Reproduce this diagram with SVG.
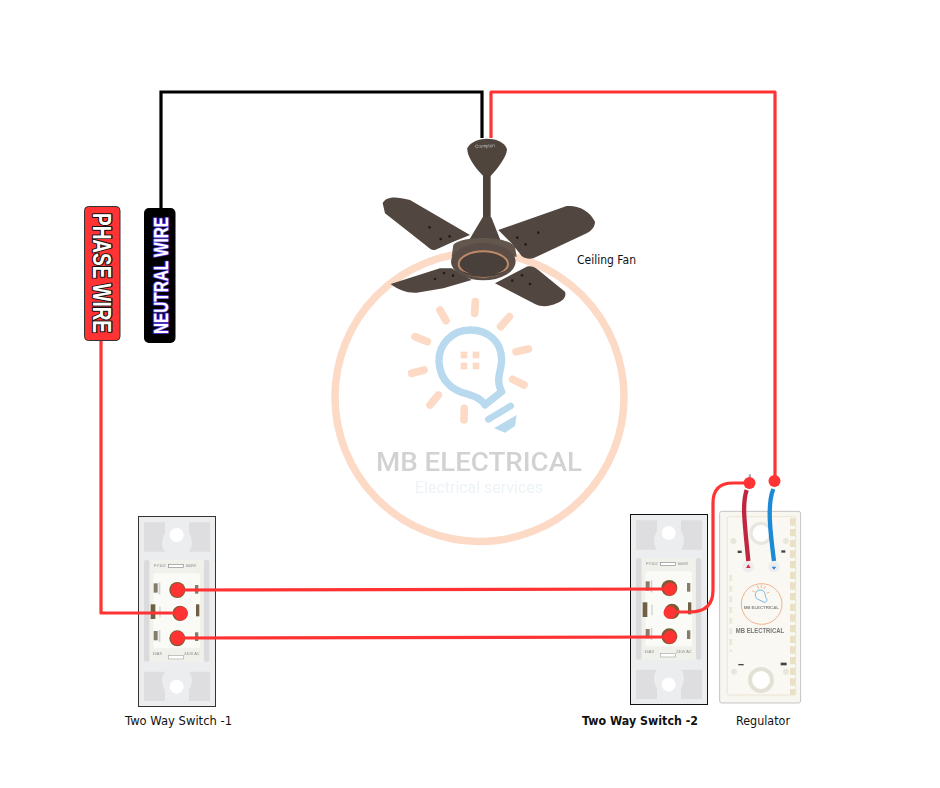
<svg xmlns="http://www.w3.org/2000/svg" width="940" height="788" viewBox="0 0 940 788">
<style>
.ray{fill:none;stroke:#fcdac6;stroke-width:23;stroke-linecap:round}
.wire{fill:none;stroke:#ff3333;stroke-width:3.200;stroke-linejoin:round}
.dot{fill:#ff3333}
.lbl{font-family:"DejaVu Sans",sans-serif;font-size:12px;fill:#111}
.blade{fill:#51463f}
.pad{fill:#dedee0}
.term{fill:#857c6c}
.micro{font-family:"Liberation Sans",sans-serif;font-size:12px;fill:#8a8a8a}
.badge{font-family:"Liberation Sans",sans-serif;font-weight:700;paint-order:stroke;stroke-linejoin:round}
</style>
<defs>
<filter id="soft" x="-5%" y="-5%" width="110%" height="110%"><feGaussianBlur stdDeviation="0.450"/></filter>
<g id="switchBody">
<rect x="55" y="35" width="232" height="570" fill="#ecedee"/>
<path class="pad" d="M72 52H135V85C125 100 122 125 135 140H72Z"/>
<path class="pad" d="M270 52H207V85C217 100 220 125 207 140H270Z"/>
<path class="pad" d="M72 588H135V555C125 540 122 515 135 500H72Z"/>
<path class="pad" d="M270 588H207V555C217 540 220 515 207 500H270Z"/>
<circle cx="170" cy="90" r="21" fill="#fff"/>
<circle cx="170" cy="545" r="21" fill="#fff"/>
<rect x="72" y="165" width="16" height="305" rx="6" fill="#dbdbdd"/>
<rect x="252" y="165" width="16" height="305" rx="6" fill="#dbdbdd"/>
<rect x="90" y="165" width="160" height="305" rx="6" fill="#f1f1ec"/>
<rect x="100" y="205" width="140" height="225" rx="8" fill="#fafaf7"/>
<rect x="146" y="178" width="44" height="10" fill="#fff" stroke="#888" stroke-width="2"/>
<rect x="146" y="452" width="44" height="10" fill="#fff" stroke="#aaa" stroke-width="2"/>
<rect x="101" y="235" width="12" height="28" class="term"/>
<rect x="116" y="232" width="5" height="36" fill="#d2d2d2"/>
<rect x="225" y="240" width="10" height="26" class="term"/>
<rect x="92" y="298" width="14" height="44" fill="#6f5f45"/>
<rect x="118" y="305" width="4" height="32" fill="#d2d2d2"/>
<rect x="228" y="298" width="10" height="36" fill="#6f5f45"/>
<rect x="101" y="378" width="12" height="28" class="term"/>
<rect x="116" y="375" width="5" height="36" fill="#d2d2d2"/>
<rect x="225" y="382" width="10" height="26" class="term"/>
<circle cx="172" cy="255" r="24" fill="#7a5c32"/>
<circle cx="180" cy="325" r="27" fill="#fff"/>
<circle cx="180" cy="325" r="23" fill="#7a5c32"/>
<circle cx="172" cy="400" r="24" fill="#7a5c32"/>
<text class="micro" x="102" y="186">FY102</text>
<text class="micro" x="197" y="186">600W</text>
<text class="micro" x="97" y="451">16AX</text>
<text class="micro" x="192" y="451">240V AC</text>
</g>
</defs>
<rect width="940" height="788" fill="#fff"/>

<g id="watermark" filter="url(#soft)">
<circle cx="479.500" cy="397" r="144.500" fill="none" stroke="#fcdac6" stroke-width="7.500"/>
<g transform="translate(320 280) scale(.3333)">
<path class="ray" d="M360 90L378 122M466 65L464 100M568 110L542 140M588 215L625 207M578 298L612 315M433 385L432 420M355 345L330 375M285 170L322 185M275 280L312 270"/>
<path d="M545 335C525 300 545 270 545 240C545 185 505 150 450 150C395 150 355 195 357 245C360 290 385 320 420 335C450 345 480 350 495 375Z" fill="none" stroke="#b9d9ee" stroke-width="22" stroke-linejoin="round"/>
<path d="M505 418L572 378" fill="none" stroke="#b9d9ee" stroke-width="20" stroke-linecap="round"/>
<path d="M522 445L590 405L585 438L555 458Z" fill="#b9d9ee"/>
<g fill="#fcdac6"><rect x="422" y="215" width="20" height="20"/><rect x="458" y="215" width="20" height="20"/><rect x="422" y="248" width="20" height="20"/><rect x="458" y="248" width="20" height="20"/></g>
</g>
<text x="376" y="471" font-family="Roboto,sans-serif" font-weight="500" font-size="26" fill="#d2d2d2" textLength="206" lengthAdjust="spacingAndGlyphs">MB ELECTRICAL</text>
<text x="415" y="493" font-family="Roboto,sans-serif" font-size="16" fill="#edf3f6" textLength="128" lengthAdjust="spacingAndGlyphs">Electrical services</text>
</g>

<g id="ceiling-fan">
<g transform="translate(360 120) scale(.3333)" filter="url(#soft)">
<path class="blade" d="M68 250C75 232 100 226 150 240L330 345L280 365L225 390C215 392 208 385 200 378L75 280Z"/>
<path class="blade" d="M415 330L620 258C660 255 690 275 705 305C705 320 695 332 680 340L520 415C505 418 495 415 485 408L455 370Z"/>
<path class="blade" d="M92 492L240 445H275L335 480L250 505L170 518C145 520 115 510 92 492Z"/>
<path class="blade" d="M405 490L500 440C515 437 525 442 535 450L615 515C620 530 610 542 590 550C570 560 545 562 525 552Z"/>
<path d="M322 85C330 65 360 56 381 56C405 56 435 65 441 88C441 110 410 150 392 168H370C350 150 320 110 322 85Z" fill="#4f443e"/>
<rect x="369" y="165" width="23" height="130" fill="#4c423b"/>
<path d="M368 292H394L422 362H326Z" fill="#51463f"/>
<path d="M280 375C300 348 440 345 465 380L470 410H275Z" fill="#62564d"/>
<ellipse cx="370" cy="425" rx="97" ry="56" fill="#5a4e46"/>
<ellipse cx="370" cy="432" rx="74" ry="38" fill="#4a403a" stroke="#c08a68" stroke-width="6"/>
<path d="M296 445C310 480 430 480 444 445C430 470 310 470 296 445Z" fill="#4a403a"/>
<text x="346" y="84" font-family="Liberation Sans,sans-serif" font-size="14" fill="#c9c9c9" transform="rotate(-3 346 84)" textLength="58" lengthAdjust="spacingAndGlyphs">Crompton</text>
<g fill="#241d19"><circle cx="209" cy="322" r="4"/><circle cx="242" cy="357" r="4"/><circle cx="269" cy="349" r="4"/><circle cx="472" cy="353" r="4"/><circle cx="497" cy="373" r="4"/><circle cx="535" cy="338" r="4"/><circle cx="225" cy="477" r="4"/><circle cx="252" cy="459" r="4"/><circle cx="279" cy="467" r="4"/><circle cx="457" cy="482" r="4"/><circle cx="486" cy="466" r="4"/><circle cx="510" cy="492" r="4"/></g>
</g>
<text class="lbl" x="577" y="264" textLength="59" lengthAdjust="spacingAndGlyphs">Ceiling Fan</text>
</g>

<g id="switch-1">
<use href="#switchBody" transform="translate(120 505) scale(.3333)" filter="url(#soft)"/>
<rect x="138.500" y="516.500" width="77" height="190" fill="none" stroke="#333"/>
<text class="lbl" x="125" y="725" textLength="107" lengthAdjust="spacingAndGlyphs">Two Way Switch -1</text>
</g>

<g id="switch-2">
<use href="#switchBody" transform="translate(612 503) scale(.3333)" filter="url(#soft)"/>
<rect x="630.500" y="514.500" width="77" height="190" fill="none" stroke="#111"/>
<text class="lbl" x="582" y="725" font-weight="700" textLength="116" lengthAdjust="spacingAndGlyphs">Two Way Switch -2</text>
</g>

<g id="regulator">
<g transform="translate(620 465) scale(.3333)" filter="url(#soft)">
<rect x="299" y="139" width="243" height="575" rx="6" fill="#f7f6f1" stroke="#c4c4c4" stroke-width="3"/>
<rect x="322" y="155" width="205" height="535" rx="4" fill="#f9f8f2" stroke="#ebe5d2" stroke-width="3"/>
<path d="M518 160V690" fill="none" stroke="#e9e0c6" stroke-width="16" stroke-dasharray="22 10"/>
<path d="M332 330V560" fill="none" stroke="#eeeadb" stroke-width="10" stroke-dasharray="18 14"/>
<circle cx="423" cy="205" r="30" fill="#fff" stroke="#e8e7e0" stroke-width="10"/>
<circle cx="423" cy="645" r="33" fill="#fff" stroke="#e3e1d6" stroke-width="12"/>
<g fill="#444"><rect x="353" y="257" width="12" height="7"/><rect x="484" y="256" width="12" height="7"/><rect x="355" y="597" width="16" height="4"/><rect x="482" y="593" width="18" height="8"/></g>
<g fill="#e9e7db"><circle cx="340" cy="228" r="9"/><circle cx="498" cy="228" r="9"/><circle cx="342" cy="620" r="9"/><circle cx="498" cy="620" r="9"/></g>
<circle cx="385" cy="305" r="17" fill="#ededed"/>
<circle cx="462" cy="305" r="17" fill="#ededed"/>
<path d="M378 309H392L385 298Z" fill="#cf2f45"/>
<path d="M455 305H469L462 314Z" fill="#2a86d8"/>
<circle cx="425" cy="417" r="61" fill="#f9f8f2" stroke="#f0b48e" stroke-width="3"/>
<path d="M420 375C405 375 402 395 412 402L435 413L442 405C432 395 440 375 420 375Z" fill="none" stroke="#7db7e3" stroke-width="3"/>
<path class="ray" style="stroke:#f0a878;stroke-width:2.500" d="M412 362L415 370M424 360V368M436 364L432 371M398 378L405 381M447 382L441 384"/>
<text x="424" y="433" text-anchor="middle" font-family="Liberation Sans,sans-serif" font-size="13" font-weight="700" fill="#888">MB ELECTRICAL</text>
<text x="420" y="504" text-anchor="middle" font-family="Liberation Sans,sans-serif" font-size="20" font-weight="700" fill="#777" textLength="145" lengthAdjust="spacingAndGlyphs">MB ELECTRICAL</text>
<path d="M380 75C365 120 375 180 385 288" fill="none" stroke="#c1283f" stroke-width="13"/>
<path d="M460 72C440 120 452 210 462 288" fill="none" stroke="#1b8ad6" stroke-width="13"/>
<rect x="386" y="28" width="7" height="22" fill="#aaa"/>
</g>
<text class="lbl" x="736" y="725" textLength="54" lengthAdjust="spacingAndGlyphs">Regulator</text>
</g>

<g id="phase-wire">
<rect x="84.500" y="206.500" width="35.500" height="134" rx="4" fill="#ff3333" stroke="#333"/>
<text class="badge" transform="translate(93 213) rotate(90)" font-size="25" fill="#fff" stroke="#111" stroke-width="2.500" textLength="120" lengthAdjust="spacingAndGlyphs">PHASE WIRE</text>
</g>

<g id="neutral-wire">
<rect x="144" y="208" width="31.500" height="135" rx="5" fill="#000"/>
<text class="badge" transform="translate(168 334) rotate(-90)" font-size="21" fill="#fff" stroke="#5a3be0" stroke-width="2" textLength="117" lengthAdjust="spacingAndGlyphs">NEUTRAL WIRE</text>
</g>

<g id="connectors">
<path d="M161 208V92H482V138" fill="none" stroke="#000" stroke-width="3.200"/>
<path class="wire" d="M491 138V92H775V481"/>
<path class="wire" d="M101 341V613H181"/>
<path class="wire" d="M177 590L670 589"/>
<path class="wire" d="M177 638L670 637"/>
<path class="wire" d="M670 612H690Q713 612 713 590V503Q713 483 733 483H749"/>
<circle class="dot" cx="177.500" cy="590" r="7"/>
<circle class="dot" cx="181" cy="613.500" r="7"/>
<circle class="dot" cx="177.500" cy="638" r="7"/>
<circle class="dot" cx="670" cy="589" r="6.500"/>
<circle class="dot" cx="670" cy="612.500" r="6.500"/>
<circle class="dot" cx="670" cy="637" r="6.500"/>
<circle class="dot" cx="749.500" cy="483" r="6"/>
<circle class="dot" cx="774.500" cy="481" r="6"/>
</g>
</svg>
